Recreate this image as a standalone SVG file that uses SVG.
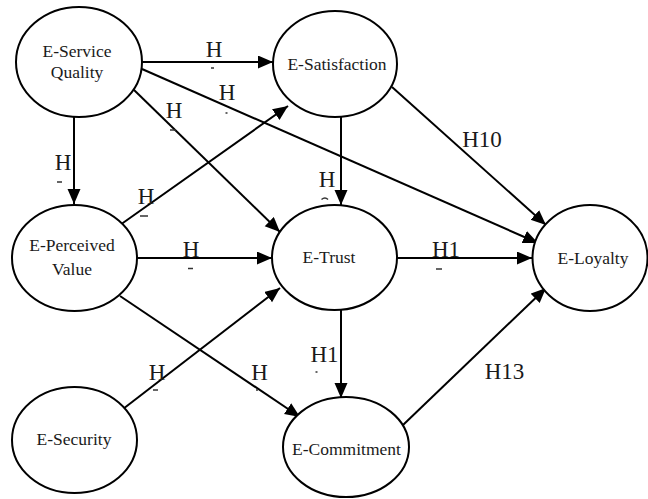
<svg xmlns="http://www.w3.org/2000/svg" width="648" height="499" viewBox="0 0 648 499">
<style>
.node ellipse{fill:#fff;stroke:#000;stroke-width:2}
.node text{font-family:"Liberation Serif","Times New Roman",serif;font-size:17.5px;fill:#1a1a1a;text-anchor:middle}
.edges line.e{stroke:#000;stroke-width:2;marker-end:url(#ah)}
.lbl{font-family:"Liberation Serif","Times New Roman",serif;font-size:23px;fill:#1a1a1a;text-anchor:middle}
.mk{stroke:#333;stroke-width:1.5}
</style>
<defs>
<marker id="ah" markerUnits="userSpaceOnUse" markerWidth="16" markerHeight="14" refX="15" refY="6.5" orient="auto">
<path d="M0,0 L15,6.5 L0,13 z" fill="#000"/>
</marker>
</defs>
<rect width="648" height="499" fill="#fff"/>
<g id="connectors" class="edges">
<line class="e" x1="142" y1="62" x2="273" y2="62"/>
<line class="e" x1="142" y1="69" x2="538" y2="243"/>
<line class="e" x1="133" y1="89" x2="280" y2="232"/>
<line class="e" x1="74" y1="117" x2="74" y2="204"/>
<line class="e" x1="120" y1="225" x2="288" y2="106"/>
<line class="e" x1="137" y1="258" x2="272" y2="258"/>
<line class="e" x1="341" y1="117" x2="341" y2="205"/>
<line class="e" x1="392" y1="87" x2="546" y2="225"/>
<line class="e" x1="397" y1="258" x2="532" y2="258"/>
<line class="e" x1="123" y1="409" x2="280" y2="288"/>
<line class="e" x1="120" y1="296" x2="300" y2="417"/>
<line class="e" x1="341" y1="310" x2="341" y2="398"/>
<line class="e" x1="403" y1="425" x2="546" y2="288"/>
<g id="labels">
<text class="lbl" x="214" y="57">H</text>
<line class="mk" x1="211" y1="68" x2="214" y2="68"/>
<text class="lbl" x="227" y="100">H</text>
<line class="mk" x1="225.5" y1="113" x2="227.5" y2="113"/>
<text class="lbl" x="174" y="118">H</text>
<line class="mk" x1="170" y1="130" x2="176" y2="130"/>
<text class="lbl" x="63" y="170">H</text>
<line class="mk" x1="57" y1="182" x2="62" y2="182"/>
<text class="lbl" x="146" y="204">H</text>
<line class="mk" x1="140" y1="216" x2="148" y2="216"/>
<text class="lbl" x="191" y="257">H</text>
<line class="mk" x1="188" y1="268.5" x2="193" y2="268.5"/>
<text class="lbl" x="327" y="187">H</text>
<path class="mk" d="M321.5,199.5 Q325,196.5 328,199.5" fill="none"/>
<text class="lbl" x="482" y="147">H10</text>
<text class="lbl" x="446" y="257">H1</text>
<line class="mk" x1="436" y1="269" x2="442" y2="269"/>
<text class="lbl" x="157" y="380">H</text>
<line class="mk" x1="153" y1="390" x2="158" y2="390"/>
<text class="lbl" x="259.5" y="380">H</text>
<line class="mk" x1="256" y1="390" x2="258" y2="390"/>
<text class="lbl" x="324.5" y="362">H1</text>
<line class="mk" x1="315.5" y1="372" x2="317.5" y2="372"/>
<text class="lbl" x="504.5" y="379">H13</text>
</g>
</g>
<g id="n-service-quality" class="node">
<ellipse cx="79" cy="62" rx="63" ry="55"/>
<text x="77" y="57">E-Service</text>
<text x="77" y="78">Quality</text>
</g>
<g id="n-satisfaction" class="node">
<ellipse cx="335" cy="64" rx="62" ry="53"/>
<text x="337" y="70">E-Satisfaction</text>
</g>
<g id="n-perceived-value" class="node">
<ellipse cx="74.5" cy="258" rx="62.5" ry="53"/>
<text x="72" y="251">E-Perceived</text>
<text x="72" y="275">Value</text>
</g>
<g id="n-trust" class="node">
<ellipse cx="334.5" cy="257.5" rx="62.5" ry="52.5"/>
<text x="329" y="263">E-Trust</text>
</g>
<g id="n-loyalty" class="node">
<ellipse cx="590" cy="258" rx="57.5" ry="53"/>
<text x="593" y="264">E-Loyalty</text>
</g>
<g id="n-security" class="node">
<ellipse cx="74.5" cy="440" rx="62.5" ry="53"/>
<text x="74" y="445">E-Security</text>
</g>
<g id="n-commitment" class="node">
<ellipse cx="346" cy="447" rx="63" ry="50"/>
<text x="346.5" y="455">E-Commitment</text>
</g>
</svg>
